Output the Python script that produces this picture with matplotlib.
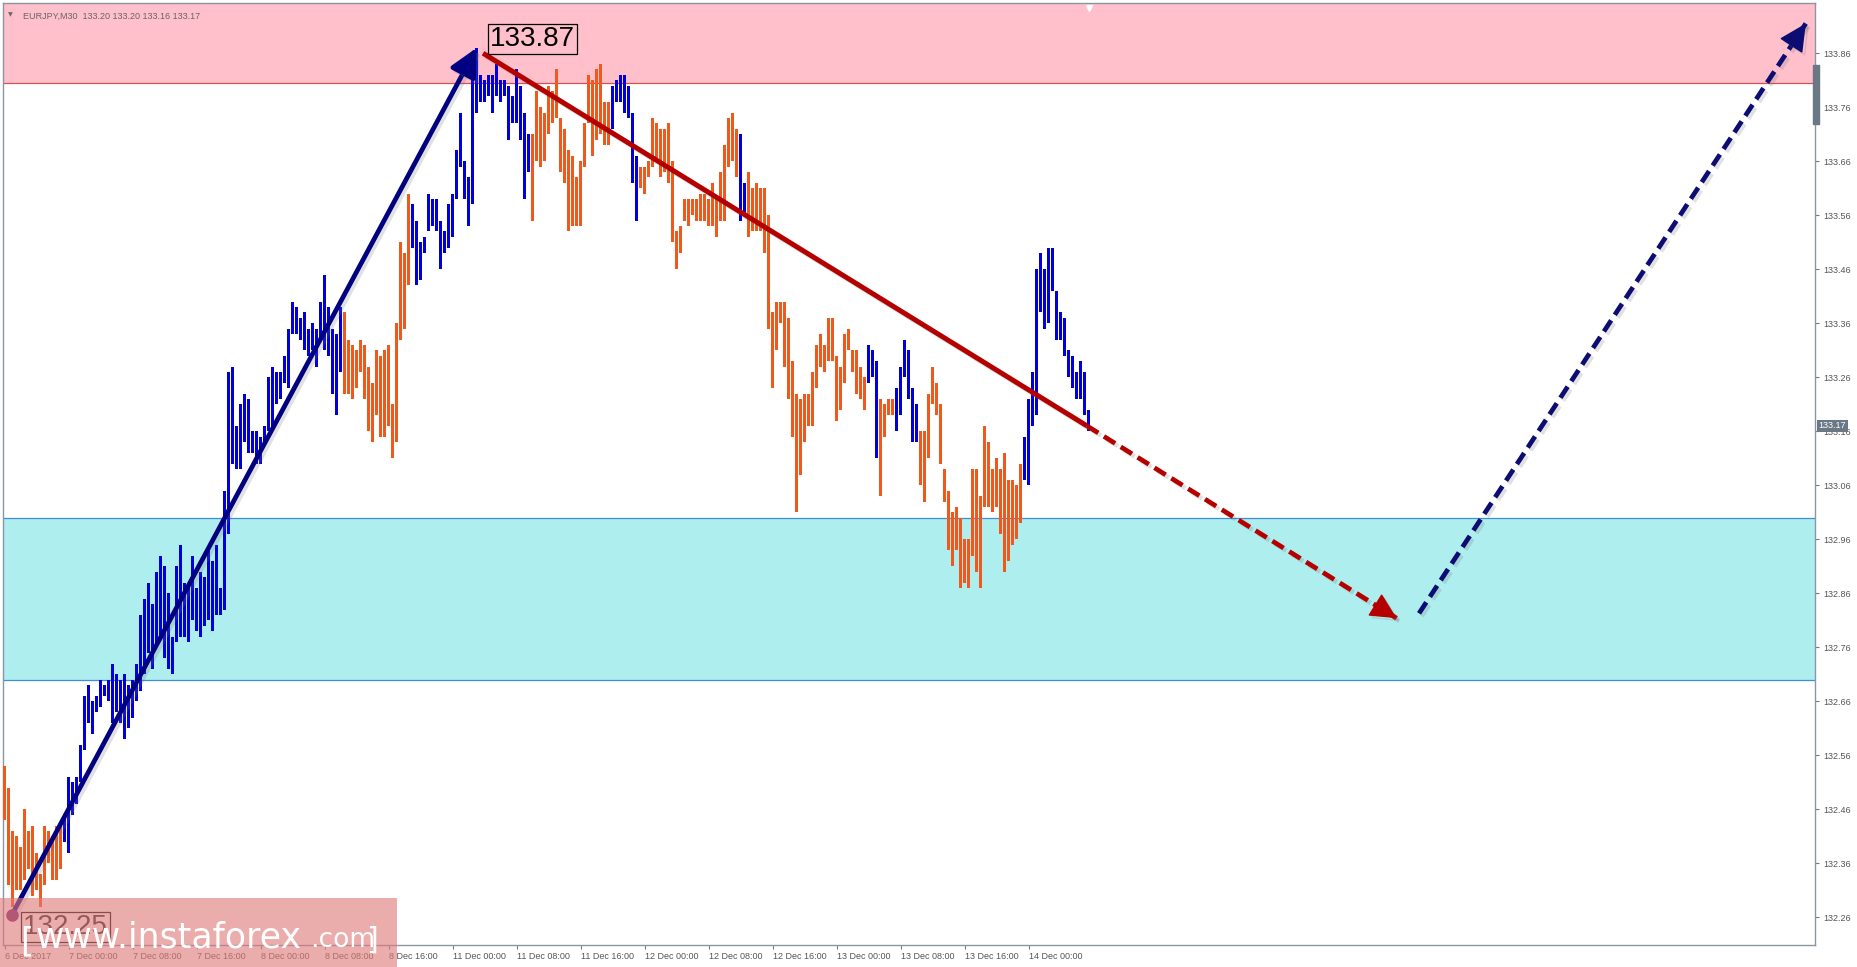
import matplotlib
matplotlib.use("Agg")
import matplotlib.pyplot as plt
import matplotlib.patheffects as pe
import matplotlib.transforms as mtransforms
from matplotlib.patches import Rectangle
import numpy as np

# EURJPY M30 bars (bar 0 = 6 Dec 16:00)
highs = [132.54, 132.50, 132.42, 132.41, 132.39, 132.46, 132.42, 132.43, 132.38, 132.34,
         132.43, 132.42, 132.41, 132.43, 132.43, 132.45, 132.52, 132.51, 132.52, 132.58,
         132.67, 132.69, 132.66, 132.67, 132.70, 132.69, 132.70, 132.73, 132.71, 132.70,
         132.71, 132.69, 132.70, 132.73, 132.82, 132.85, 132.88, 132.84, 132.90, 132.93,
         132.91, 132.86, 132.78, 132.91, 132.95, 132.88, 132.88, 132.93, 132.87, 132.90,
         132.89, 132.94, 132.92, 132.95, 132.87, 133.05, 133.27, 133.28, 133.17, 133.21,
         133.23, 133.22, 133.16, 133.16, 133.15, 133.17, 133.26, 133.28, 133.27, 133.27,
         133.30, 133.35, 133.40, 133.39, 133.37, 133.38, 133.35, 133.36, 133.35, 133.40,
         133.45, 133.39, 133.35, 133.34, 133.39, 133.38, 133.33, 133.32, 133.31, 133.33,
         133.32, 133.28, 133.25, 133.31, 133.30, 133.31, 133.32, 133.21, 133.36, 133.51,
         133.49, 133.60, 133.58, 133.55, 133.51, 133.52, 133.60, 133.59, 133.59, 133.55,
         133.53, 133.58, 133.60, 133.68, 133.75, 133.66, 133.63, 133.81, 133.87, 133.82,
         133.81, 133.82, 133.82, 133.84, 133.81, 133.81, 133.80, 133.78, 133.83, 133.80,
         133.75, 133.71, 133.71, 133.79, 133.76, 133.75, 133.80, 133.79, 133.83, 133.74,
         133.72, 133.68, 133.67, 133.63, 133.66, 133.73, 133.82, 133.81, 133.83, 133.84,
         133.77, 133.77, 133.80, 133.81, 133.82, 133.82, 133.80, 133.75, 133.67, 133.65,
         133.65, 133.66, 133.74, 133.73, 133.72, 133.72, 133.73, 133.66, 133.53, 133.54,
         133.59, 133.59, 133.59, 133.59, 133.60, 133.60, 133.59, 133.62, 133.59, 133.64,
         133.69, 133.74, 133.75, 133.72, 133.71, 133.62, 133.64, 133.61, 133.62, 133.61,
         133.61, 133.56, 133.38, 133.40, 133.40, 133.40, 133.37, 133.29, 133.23, 133.22,
         133.23, 133.23, 133.27, 133.32, 133.34, 133.32, 133.37, 133.37, 133.30, 133.28,
         133.34, 133.35, 133.31, 133.31, 133.28, 133.26, 133.32, 133.31, 133.29, 133.22,
         133.21, 133.22, 133.22, 133.24, 133.28, 133.33, 133.31, 133.24, 133.21, 133.16,
         133.16, 133.23, 133.28, 133.25, 133.21, 133.09, 133.05, 133.01, 133.02, 133.00,
         132.96, 132.96, 133.09, 133.09, 133.04, 133.17, 133.14, 133.09, 133.11, 133.09,
         133.12, 133.07, 133.07, 133.06, 133.10, 133.15, 133.22, 133.27, 133.46, 133.49,
         133.46, 133.50, 133.50, 133.42, 133.38, 133.37, 133.31, 133.30, 133.27, 133.29,
         133.27, 133.20]
lows = [132.44, 132.32, 132.28, 132.31, 132.31, 132.33, 132.35, 132.30, 132.31, 132.28,
        132.32, 132.36, 132.33, 132.33, 132.35, 132.40, 132.38, 132.45, 132.47, 132.51,
        132.57, 132.62, 132.60, 132.64, 132.65, 132.67, 132.66, 132.62, 132.64, 132.62,
        132.59, 132.61, 132.63, 132.66, 132.68, 132.71, 132.75, 132.72, 132.76, 132.78,
        132.74, 132.72, 132.71, 132.77, 132.78, 132.78, 132.77, 132.81, 132.79, 132.78,
        132.80, 132.81, 132.79, 132.82, 132.82, 132.83, 132.97, 133.10, 133.09, 133.09,
        133.14, 133.12, 133.12, 133.10, 133.10, 133.14, 133.16, 133.16, 133.21, 133.22,
        133.25, 133.24, 133.34, 133.34, 133.33, 133.31, 133.30, 133.31, 133.28, 133.33,
        133.31, 133.30, 133.23, 133.19, 133.27, 133.23, 133.23, 133.22, 133.24, 133.27,
        133.22, 133.16, 133.14, 133.19, 133.15, 133.15, 133.17, 133.11, 133.14, 133.33,
        133.35, 133.43, 133.50, 133.43, 133.44, 133.49, 133.53, 133.54, 133.53, 133.46,
        133.49, 133.50, 133.52, 133.59, 133.65, 133.59, 133.54, 133.58, 133.75, 133.77,
        133.77, 133.78, 133.75, 133.78, 133.77, 133.78, 133.70, 133.73, 133.73, 133.70,
        133.59, 133.64, 133.55, 133.66, 133.65, 133.66, 133.71, 133.73, 133.74, 133.64,
        133.62, 133.53, 133.54, 133.54, 133.54, 133.65, 133.73, 133.67, 133.70, 133.71,
        133.69, 133.69, 133.72, 133.77, 133.77, 133.75, 133.74, 133.62, 133.55, 133.61,
        133.60, 133.63, 133.65, 133.66, 133.63, 133.64, 133.62, 133.51, 133.46, 133.49,
        133.55, 133.54, 133.56, 133.55, 133.55, 133.55, 133.54, 133.54, 133.52, 133.55,
        133.55, 133.65, 133.66, 133.63, 133.55, 133.56, 133.52, 133.53, 133.53, 133.53,
        133.49, 133.35, 133.24, 133.31, 133.36, 133.28, 133.22, 133.15, 133.01, 133.08,
        133.14, 133.17, 133.17, 133.24, 133.28, 133.27, 133.29, 133.29, 133.18, 133.20,
        133.25, 133.31, 133.27, 133.23, 133.22, 133.20, 133.25, 133.26, 133.11, 133.04,
        133.15, 133.19, 133.19, 133.16, 133.19, 133.26, 133.22, 133.14, 133.14, 133.06,
        133.03, 133.11, 133.21, 133.19, 133.10, 133.03, 132.94, 132.91, 132.94, 132.87,
        132.88, 132.87, 132.93, 132.90, 132.87, 133.02, 133.02, 133.01, 133.02, 132.97,
        132.90, 132.92, 132.95, 132.96, 132.99, 133.07, 133.06, 133.17, 133.19, 133.38,
        133.35, 133.36, 133.42, 133.33, 133.33, 133.30, 133.26, 133.24, 133.22, 133.22,
        133.19, 133.16]

# wave colouring of the bars: run lengths and colours
seg_len = [15, 70, 17, 30, 20, 7, 25, 2, 30, 3, 4, 6, 26, 17]
seg_col = ["o", "b", "o", "b", "o", "b", "o", "b", "o", "b", "o", "b", "o", "b"]

# time axis labels, one every 16 bars
time_labels = ["6 Dec 2017", "7 Dec 00:00", "7 Dec 08:00", "7 Dec 16:00", "8 Dec 00:00",
               "8 Dec 08:00", "8 Dec 16:00", "11 Dec 00:00", "11 Dec 08:00", "11 Dec 16:00",
               "12 Dec 00:00", "12 Dec 08:00", "12 Dec 16:00", "13 Dec 00:00", "13 Dec 08:00",
               "13 Dec 16:00", "14 Dec 00:00"]
price_ticks = [132.26, 132.36, 132.46, 132.56, 132.66, 132.76, 132.86, 132.96, 133.06,
               133.16, 133.26, 133.36, 133.46, 133.56, 133.66, 133.76, 133.86]

# zones
resist_zone = [133.805, 134.2]
support_zone = [132.70, 133.00]

# wave marks (bar index, price)
up_wave_x = [1.8, 118.0]
up_wave_y = [132.265, 133.87]
down_wave_x = [119.6, 270.6, 348.0]
down_wave_y = [133.86, 133.17, 132.814]
next_wave_x = [353.6, 450.3]
next_wave_y = [132.823, 133.915]
low_label = "132.25"
high_label = "133.87"
last_price = 133.17
header = "EURJPY,M30  133.20 133.20 133.16 133.17"

ORANGE = "#F0581C"
BLUE = "#0000DC"
cmap = {"o": ORANGE, "b": BLUE}
colors = []
for n, c in zip(seg_len, seg_col):
    colors += [cmap[c]] * n

W, H = 1857, 967
fig = plt.figure(figsize=(W / 100, H / 100), dpi=100)
ax = fig.add_axes([3 / W, 22 / H, 1812 / W, 942 / H])

idx = np.arange(len(highs))
hi = np.array(highs)
lo = np.array(lows)

ax.axhspan(resist_zone[0], resist_zone[1], color="#FFC0CB", lw=0, zorder=0)
ax.axhline(resist_zone[0], color="#D65050", lw=0.9, zorder=1)
ax.axhspan(support_zone[0], support_zone[1], fc="#AFEEEE", ec="none", zorder=0)
for lv in support_zone:
    ax.axhline(lv, color="#3E8ED8", lw=0.9, zorder=1)

ax.bar(idx, hi - lo, bottom=lo, width=0.75, color=colors, lw=0, zorder=3)

shadow = [pe.SimpleLineShadow(offset=(2, -2), shadow_color="#777777", alpha=0.22), pe.Normal()]

# up wave arrow
ann = ax.annotate("", xy=(up_wave_x[1], up_wave_y[1]), xytext=(up_wave_x[0], up_wave_y[0]),
                  arrowprops=dict(arrowstyle="-|>", color="#000080", lw=3.4,
                                  mutation_scale=42, shrinkA=0, shrinkB=0), zorder=5)
ann.arrow_patch.set_path_effects(shadow)
ax.plot(up_wave_x[0], up_wave_y[0], "o", ms=8, color="#6B1F6B", zorder=6)

# down wave: solid then dashed forecast
RED = "#B50000"
ax.plot(down_wave_x[:2], down_wave_y[:2], color=RED, lw=3.6, solid_capstyle="butt",
        path_effects=shadow, zorder=5)
ax.plot(down_wave_x[1:], down_wave_y[1:], color=RED, lw=3.4, ls=(0, (2.8, 1.4)),
        path_effects=shadow, zorder=5)
dx = down_wave_x[2] - down_wave_x[1]
dy = down_wave_y[2] - down_wave_y[1]
a2 = ax.annotate("", xy=(down_wave_x[2], down_wave_y[2]),
                 xytext=(down_wave_x[2] - dx * 0.02, down_wave_y[2] - dy * 0.02),
                 arrowprops=dict(arrowstyle="-|>", color=RED, lw=1,
                                 mutation_scale=42, shrinkA=0, shrinkB=0), zorder=5)
a2.arrow_patch.set_path_effects(shadow)

# next up wave forecast
NAVY = "#0C0C72"
ax.plot(next_wave_x, next_wave_y, color=NAVY, lw=3.4, ls=(0, (2.8, 1.4)),
        path_effects=shadow, zorder=5)
dx = next_wave_x[1] - next_wave_x[0]
dy = next_wave_y[1] - next_wave_y[0]
a3 = ax.annotate("", xy=(next_wave_x[1], next_wave_y[1]),
                 xytext=(next_wave_x[1] - dx * 0.02, next_wave_y[1] - dy * 0.02),
                 arrowprops=dict(arrowstyle="-|>", color=NAVY, lw=1,
                                 mutation_scale=44, shrinkA=0, shrinkB=0), zorder=5)
a3.arrow_patch.set_path_effects(shadow)

# price labels
box = dict(boxstyle="square,pad=0.08", fc="none", ec="black", lw=0.9)
ax.text(up_wave_x[1] + 3.3, up_wave_y[1] - 0.008, high_label, fontsize=20,
        family="Liberation Sans", va="bottom", ha="left", bbox=box, zorder=7)
ax.text(up_wave_x[0] + 2.8, up_wave_y[0] - 0.047, low_label, fontsize=20,
        family="Liberation Sans", va="bottom", ha="left", bbox=box, color="#222222", zorder=7)

ax.set_xlim(-0.43, 452.6)
ax.set_ylim(132.209, 133.953)

ax.set_xticks(np.arange(len(time_labels)) * 16)
ax.set_xticklabels(time_labels)
ax.set_yticks(price_ticks)
ax.set_yticklabels([f"{p:.2f}" for p in price_ticks])
ax.yaxis.tick_right()
ax.tick_params(axis="both", labelsize=6.5, labelcolor="#555555", color="#6f7c88",
               length=3, width=0.8)
ax.tick_params(axis="x", pad=2)
ax.tick_params(axis="y", pad=3)
for lab in ax.get_xticklabels() + ax.get_yticklabels():
    lab.set_family("Liberation Sans")
for lab in ax.get_xticklabels():
    lab.set_ha("left")
for s in ax.spines.values():
    s.set_color("#8a96a2")
    s.set_linewidth(1)

# current price box on the price scale
trans = mtransforms.blended_transform_factory(ax.transAxes, ax.transData)
ax.text(1.002, last_price, f"{last_price:.2f}", transform=trans, fontsize=6.5,
        family="Liberation Sans", color="white", va="center", ha="left",
        bbox=dict(boxstyle="square,pad=0.2", fc="#6a7886", ec="none"), zorder=8, clip_on=False)
ax.add_patch(Rectangle((0.999, 0.872), 0.003, 0.062, transform=ax.transAxes,
                       color="#6a7886", clip_on=False, zorder=8))

# shift marker and header
top_trans = mtransforms.blended_transform_factory(ax.transData, ax.transAxes)
ax.plot(idx[-1], 0.995, marker="v", ms=5, color="white", transform=top_trans,
        clip_on=False, zorder=8)
ax.text(0.003, 0.99, "\u25BC", transform=ax.transAxes, fontsize=4.5, color="#666666",
        va="top", ha="left")
ax.text(0.011, 0.991, header, transform=ax.transAxes, fontsize=6.5, color="#666666",
        family="Liberation Sans", va="top", ha="left")

# watermark
fig.patches.append(Rectangle((0, 0), 397 / W, 69 / H, transform=fig.transFigure,
                             fc="#E07A7A", alpha=0.62, ec="none", zorder=10))
fig.text(20 / W, 16 / H, "[", fontsize=24, color="white", zorder=11)
fig.text(36 / W, 20 / H, "www.instaforex", fontsize=25, color="white", zorder=11)
fig.text(310 / W, 20 / H, ".com", fontsize=19, color="white", zorder=11)
fig.text(366 / W, 18 / H, "]", fontsize=22, color="white", zorder=11)

fig.savefig("out.png", dpi=100, facecolor="white")
